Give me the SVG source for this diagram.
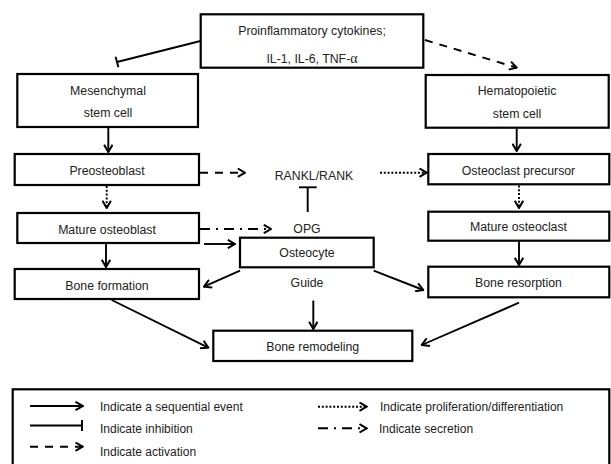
<svg xmlns="http://www.w3.org/2000/svg" width="611" height="464" viewBox="0 0 611 464">
<defs>
<marker id="ah" viewBox="0 0 10 10" refX="9" refY="5" markerWidth="10" markerHeight="10" orient="auto" markerUnits="userSpaceOnUse">
<path d="M1.8,0.8 L9,5 L1.8,9.2" fill="none" stroke="#000" stroke-width="2" stroke-linejoin="miter"/>
</marker>
<style>
.box{fill:#fff;stroke:#000;stroke-width:2.2}
.t{font-family:"Liberation Sans",Arial,sans-serif;font-size:12.3px;fill:#222;text-anchor:middle}
.lt{font-family:"Liberation Sans",Arial,sans-serif;font-size:12px;fill:#222}
.c{fill:none;stroke:#000;stroke-width:1.9}
.arr{marker-end:url(#ah)}
.dash{stroke-dasharray:8,7}
.dot{stroke-dasharray:2,1.8}
.dd{stroke-dasharray:10,6,2,6}
</style>
</defs>
<rect width="611" height="464" fill="#fff"/>

<g id="cytokines">
<rect class="box" x="200.7" y="14.3" width="222.6" height="53.4"/>
<text class="t" x="312" y="34.5">Proinflammatory cytokines;</text>
<text class="t" x="312" y="63">IL-1, IL-6, TNF-<tspan font-family="Liberation Serif, serif" font-size="14">α</tspan></text>
</g>
<g id="msc">
<rect class="box" x="17.3" y="74" width="180.7" height="53"/>
<text class="t" x="108" y="94.5">Mesenchymal</text>
<text class="t" x="108" y="117">stem cell</text>
</g>
<g id="hsc">
<rect class="box" x="425.7" y="75" width="183" height="52.7"/>
<text class="t" x="517" y="95">Hematopoietic</text>
<text class="t" x="517" y="117.7">stem cell</text>
</g>
<g id="preosteoblast">
<rect class="box" x="14.7" y="154" width="184.3" height="31"/>
<text class="t" x="107" y="174.5">Preosteoblast</text>
</g>
<g id="rankl">
<text class="t" x="314" y="179.5">RANKL/RANK</text>
</g>
<g id="ocprecursor">
<rect class="box" x="428.3" y="154" width="181" height="30.3"/>
<text class="t" x="518.5" y="174.5">Osteoclast precursor</text>
</g>
<g id="matureob">
<rect class="box" x="17.3" y="213" width="181.7" height="30"/>
<text class="t" x="107" y="233.5">Mature osteoblast</text>
</g>
<g id="opg">
<text class="t" x="307" y="232.5">OPG</text>
</g>
<g id="matureoc">
<rect class="box" x="428.3" y="211.7" width="181" height="29"/>
<text class="t" x="518.5" y="231">Mature osteoclast</text>
</g>
<g id="osteocyte">
<rect class="box" x="240" y="237.7" width="133.7" height="29.6"/>
<text class="t" x="307" y="257">Osteocyte</text>
</g>
<g id="guide">
<text class="t" x="307" y="287">Guide</text>
</g>
<g id="boneformation">
<rect class="box" x="14.7" y="269" width="184.3" height="30"/>
<text class="t" x="107" y="289.5">Bone formation</text>
</g>
<g id="boneresorption">
<rect class="box" x="428.3" y="266.7" width="181" height="30.6"/>
<text class="t" x="518.5" y="287">Bone resorption</text>
</g>
<g id="boneremodeling">
<rect class="box" x="213.3" y="330.7" width="199" height="30.3"/>
<text class="t" x="312.7" y="350.5">Bone remodeling</text>
</g>

<g id="connectors">
<line class="c" x1="200.5" y1="41" x2="117" y2="62"/>
<line class="c" x1="115.6" y1="56.7" x2="118.4" y2="67.3"/>
<line class="c dash arr" x1="425" y1="40" x2="516.7" y2="67.7"/>
<line class="c arr" x1="108.3" y1="128" x2="108.3" y2="152"/>
<line class="c arr" x1="516.7" y1="128.5" x2="516.7" y2="151"/>
<line class="c dash arr" x1="200" y1="172.7" x2="245" y2="172.7"/>
<line class="c dot arr" x1="380" y1="172.7" x2="426.7" y2="172.7"/>
<line class="c dot arr" x1="106.7" y1="186" x2="106.7" y2="208"/>
<line class="c dot arr" x1="519" y1="185.5" x2="519" y2="208"/>
<line class="c" x1="307.7" y1="212" x2="307.7" y2="187.3"/>
<line class="c" x1="299" y1="187.3" x2="316.7" y2="187.3"/>
<line class="c dd arr" x1="200" y1="229" x2="271" y2="229"/>
<line class="c arr" x1="204" y1="244" x2="235" y2="244"/>
<line class="c arr" x1="106" y1="244" x2="106" y2="267"/>
<line class="c arr" x1="519" y1="241.5" x2="519" y2="265"/>
<line class="c arr" x1="240" y1="270.7" x2="204" y2="286.7"/>
<line class="c arr" x1="373.7" y1="270.7" x2="423.3" y2="290"/>
<line class="c arr" x1="313.3" y1="300.5" x2="313.3" y2="329"/>
<line class="c arr" x1="111.7" y1="300" x2="208.3" y2="347.7"/>
<line class="c arr" x1="519" y1="302.7" x2="421.7" y2="345"/>
</g>

<g id="legend">
<rect x="12.7" y="389.3" width="596.6" height="90" fill="none" stroke="#000" stroke-width="2.2"/>
<line class="c arr" x1="30" y1="406" x2="82.7" y2="406"/>
<text class="lt" x="100" y="411">Indicate a sequential event</text>
<line class="c" x1="30" y1="425.5" x2="82" y2="425.5"/>
<line class="c" x1="82" y1="420" x2="82" y2="431"/>
<text class="lt" x="100" y="432.5">Indicate inhibition</text>
<line class="c dash arr" x1="30" y1="446.7" x2="82.7" y2="446.7"/>
<text class="lt" x="100" y="456">Indicate activation</text>
<line class="c dot arr" x1="318" y1="406.7" x2="366.7" y2="406.7"/>
<text class="lt" x="380" y="411">Indicate proliferation/differentiation</text>
<line class="c dd arr" x1="318" y1="428.3" x2="366.7" y2="428.3"/>
<text class="lt" x="379" y="432.5">Indicate secretion</text>
</g>
</svg>
